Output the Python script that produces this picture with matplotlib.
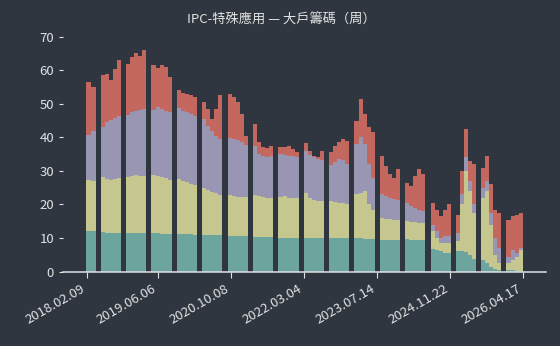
import numpy as np
import matplotlib
matplotlib.use("Agg")
import matplotlib.pyplot as plt

plt.rcParams['font.family'] = ['Noto Sans CJK TC', 'DejaVu Sans']

BG = '#2f3640'
TXT = '#e2e2e2'

# x positions are week indexes; the dates only label the ticks
tick_pos = [0, 71, 144, 217, 290, 363, 436]
tick_labels = ['2018.02.09', '2019.06.06', '2020.10.08', '2022.03.04',
               '2023.07.14', '2024.11.22', '2026.04.17']

# data comes in blocks, with gaps between them
seg_start = [-1, 14, 39, 64, 90, 115, 141, 166, 191, 217, 242, 267, 293, 318, 344, 369, 394, 419]
seg_end = [9, 34, 59, 85, 110, 135, 161, 186, 212, 237, 262, 288, 313, 338, 364, 389, 414, 436]
seg_n = [2] + [5] * 16 + [4]

# cumulative level tops (%), one list per band
top_teal = [12.1, 12.0,
            11.9, 11.5, 11.4, 11.4, 11.4,
            11.6, 11.6, 11.6, 11.5, 11.5,
            11.4, 11.4, 11.3, 11.3, 11.3,
            11.2, 11.2, 11.1, 11.1, 11.0,
            11.0, 11.0, 10.9, 10.9, 10.8,
            10.7, 10.7, 10.6, 10.6, 10.6,
            10.4, 10.4, 10.3, 10.3, 10.3,
            10.0, 10.0, 9.9, 9.9, 9.9,
            10.1, 10.0, 10.0, 10.0, 9.9,
            10.0, 9.9, 9.9, 9.9, 9.9,
            10.0, 9.9, 9.8, 9.7, 9.6,
            9.5, 9.4, 9.4, 9.4, 9.4,
            9.6, 9.5, 9.5, 9.5, 9.5,
            6.8, 6.5, 6.0, 5.6, 5.5,
            6.0, 6.0, 5.8, 5.0, 3.8,
            3.5, 2.5, 1.5, 0.8, 0.5,
            0.5, 0.5, 0.3, 0.3]
top_yellow = [27.2, 27.0,
              28.3, 27.5, 27.3, 27.6, 27.8,
              28.3, 28.6, 28.8, 28.5, 28.6,
              28.8, 28.5, 28.2, 27.8, 27.3,
              27.5, 27.0, 26.6, 26.2, 25.8,
              24.8, 24.2, 23.8, 23.3, 22.8,
              22.8, 22.5, 22.3, 22.3, 22.2,
              22.8, 22.5, 22.3, 22.0, 21.9,
              22.3, 22.5, 22.0, 21.8, 21.8,
              23.3, 22.0, 21.3, 21.0, 20.9,
              20.9, 20.6, 20.5, 20.4, 20.0,
              23.0, 23.5, 24.0, 20.0, 18.5,
              16.0, 15.8, 15.6, 15.4, 15.4,
              15.2, 14.9, 14.8, 14.6, 14.4,
              12.0, 10.0, 8.5, 8.5, 8.5,
              9.0, 20.0, 30.0, 24.0, 17.5,
              22.0, 24.0, 14.0, 5.0, 2.5,
              2.5, 3.5, 4.5, 6.5]
top_lav = [40.8, 42.0,
           43.2, 44.5, 45.2, 45.8, 46.4,
           46.7, 47.5, 48.0, 48.2, 48.5,
           48.2, 49.0, 48.5, 48.0, 47.7,
           48.7, 48.0, 47.5, 47.0, 46.5,
           45.5, 43.5, 42.0, 40.5, 39.5,
           39.7, 39.4, 39.2, 38.5, 37.7,
           37.5, 35.0, 34.5, 34.0, 34.5,
           35.0, 34.8, 34.5, 34.5, 34.0,
           36.0, 34.8, 34.0, 33.5, 33.3,
           31.8, 32.8, 33.5, 33.3, 32.0,
           38.0, 40.0, 38.0, 32.0, 28.0,
           23.0, 22.5, 22.0, 21.5, 21.3,
           20.4, 19.5, 19.0, 18.5, 18.0,
           14.0, 12.0, 10.0, 10.5, 10.5,
           11.5, 23.0, 34.0, 27.0, 20.0,
           25.0, 27.0, 17.5, 10.0, 7.0,
           4.5, 6.5, 5.5, 7.0]
top_red = [56.5, 55.0,
           58.6, 59.0, 57.0, 60.5, 63.0,
           62.0, 64.0, 65.0, 64.2, 66.0,
           61.6, 60.6, 61.6, 61.0, 58.0,
           54.1, 53.3, 53.0, 52.6, 52.1,
           50.5, 48.5, 45.5, 48.5, 52.5,
           53.0, 52.0, 50.5, 47.0, 40.5,
           44.0, 38.5, 37.0, 36.8, 37.5,
           37.2, 37.0, 37.5, 36.5, 35.5,
           38.2, 36.0, 34.5, 34.0, 36.0,
           35.5, 37.5, 38.5, 39.5, 39.0,
           45.0, 51.5, 47.0, 43.0, 41.5,
           34.5, 31.5, 29.0, 28.0, 30.5,
           26.3, 25.5, 28.5, 30.5, 29.0,
           20.5, 18.5, 16.5, 18.5, 20.0,
           17.0, 30.0, 42.5, 33.0, 32.0,
           31.0, 34.5, 26.0, 18.5, 17.5,
           15.5, 16.5, 17.0, 17.5]

colors = ['#6ba59e', '#c6c78e', '#9896b2', '#c4675f']


def split(values):
    out, i = [], 0
    for n in seg_n:
        out.append(np.array(values[i:i + n]))
        i += n
    return out


fig = plt.figure(figsize=(5.6, 3.46), dpi=100, facecolor=BG)
ax = fig.add_axes([0.1125, 0.215, 0.8625, 0.679], facecolor=BG)

levels = [split(top_teal), split(top_yellow), split(top_lav), split(top_red)]
for k in range(len(seg_n)):
    edges = np.linspace(seg_start[k], seg_end[k], seg_n[k] + 1)
    lower = np.zeros(seg_n[k])
    for lvl, c in zip(levels, colors):
        upper = np.maximum(lvl[k], lower)
        ax.stairs(upper, edges, baseline=lower, fill=True, color=c, lw=0)
        lower = upper

ax.set_xlim(-24.3, 458.7)
ax.set_ylim(0, 70)
ax.set_yticks(range(0, 71, 10))
ax.set_xticks(tick_pos)
ax.set_xticklabels(tick_labels, rotation=30, ha='right')

for s in ['top', 'right', 'left']:
    ax.spines[s].set_visible(False)
ax.spines['bottom'].set_color(TXT)
ax.spines['bottom'].set_linewidth(1.1)
ax.tick_params(colors=TXT, labelsize=9.5, length=4)
ax.tick_params(axis='y', length=3)

fig.text(0.503, 0.942, 'IPC-特殊應用 — 大戶籌碼（周）', ha='center', va='center',
         color=TXT, fontsize=9.5)

fig.savefig('out.png', dpi=100, facecolor=BG)
